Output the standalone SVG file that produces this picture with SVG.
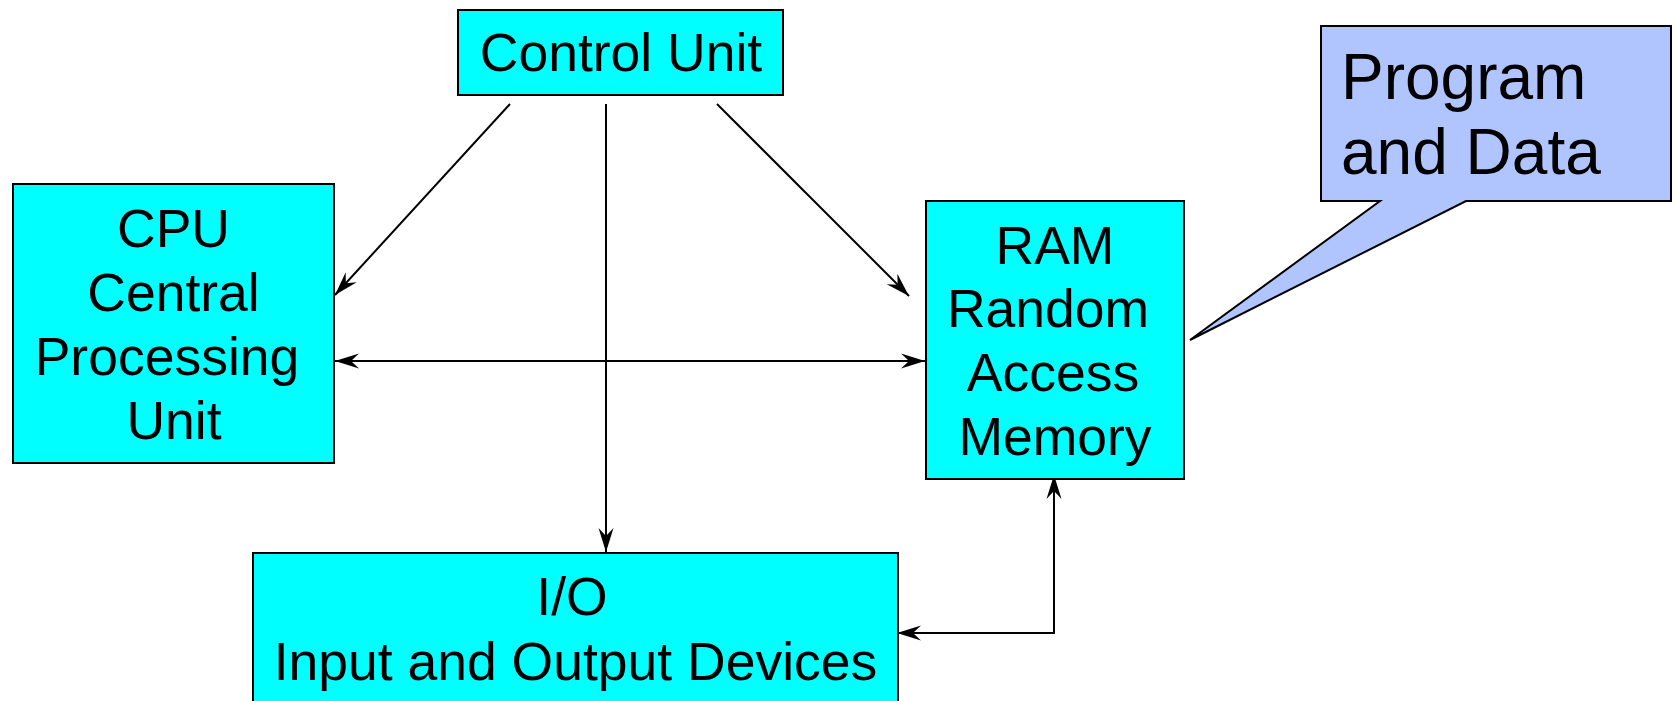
<svg xmlns="http://www.w3.org/2000/svg" width="1676" height="701" viewBox="0 0 1676 701">
  <style>
    .box { fill: #00ffff; stroke: #000000; stroke-width: 2; }
    .callout { fill: #b0c4fe; stroke: #000000; stroke-width: 2; stroke-linejoin: miter; }
    .lbl { font-family: "Liberation Sans", Arial, sans-serif; font-size: 53.5px; fill: #000000; text-anchor: middle; }
    .note { font-family: "Liberation Sans", Arial, sans-serif; font-size: 64px; fill: #000000; }
    .wire { fill: none; stroke: #000000; stroke-width: 2; }
  </style>
  <defs>
    <marker id="head" viewBox="-26 -9 28 18" refX="0" refY="0" markerWidth="28" markerHeight="18" markerUnits="userSpaceOnUse" orient="auto-start-reverse">
      <path d="M0,0 L-24,-7.5 L-16,0 L-24,7.5 Z" fill="#000000"/>
    </marker>
  </defs>

  <rect width="1676" height="701" fill="#ffffff"/>

  <!-- connectors -->
  <g id="connectors">
    <line class="wire" x1="510" y1="104" x2="335" y2="295" marker-end="url(#head)"/>
    <line class="wire" x1="717" y1="104" x2="909" y2="296" marker-end="url(#head)"/>
    <line class="wire" x1="606" y1="104" x2="606" y2="552" marker-end="url(#head)"/>
    <line class="wire" x1="335" y1="361" x2="925" y2="361" marker-start="url(#head)" marker-end="url(#head)"/>
    <polyline class="wire" points="897,633 1054,633 1054,475" marker-start="url(#head)" marker-end="url(#head)"/>
  </g>

  <!-- control unit -->
  <g id="control-unit">
    <rect class="box" x="458" y="10" width="325" height="85"/>
    <text class="lbl" x="621" y="71">Control Unit</text>
  </g>

  <!-- processor -->
  <g id="cpu">
    <rect class="box" x="13" y="184" width="321" height="279"/>
    <text class="lbl" x="173.5" y="247">CPU</text>
    <text class="lbl" x="173.5" y="311">Central</text>
    <text class="lbl" x="167" y="375">Processing</text>
    <text class="lbl" x="174" y="439">Unit</text>
  </g>

  <!-- memory -->
  <g id="ram">
    <rect class="box" x="926" y="201" width="258" height="278"/>
    <text class="lbl" x="1055" y="264">RAM</text>
    <text class="lbl" x="1048" y="327">Random</text>
    <text class="lbl" x="1053" y="391">Access</text>
    <text class="lbl" x="1055" y="455">Memory</text>
  </g>

  <!-- input / output -->
  <g id="io">
    <rect class="box" x="253" y="553" width="645" height="160"/>
    <text class="lbl" x="572" y="615">I/O</text>
    <text class="lbl" x="575.5" y="680">Input and Output Devices</text>
  </g>

  <!-- callout on memory -->
  <g id="program-data">
    <path class="callout" d="M1321,26 H1671 V201 H1466 L1190,340 L1380,201 H1321 Z"/>
    <text class="note" x="1341" y="99">Program</text>
    <text class="note" x="1341" y="174">and Data</text>
  </g>
</svg>
